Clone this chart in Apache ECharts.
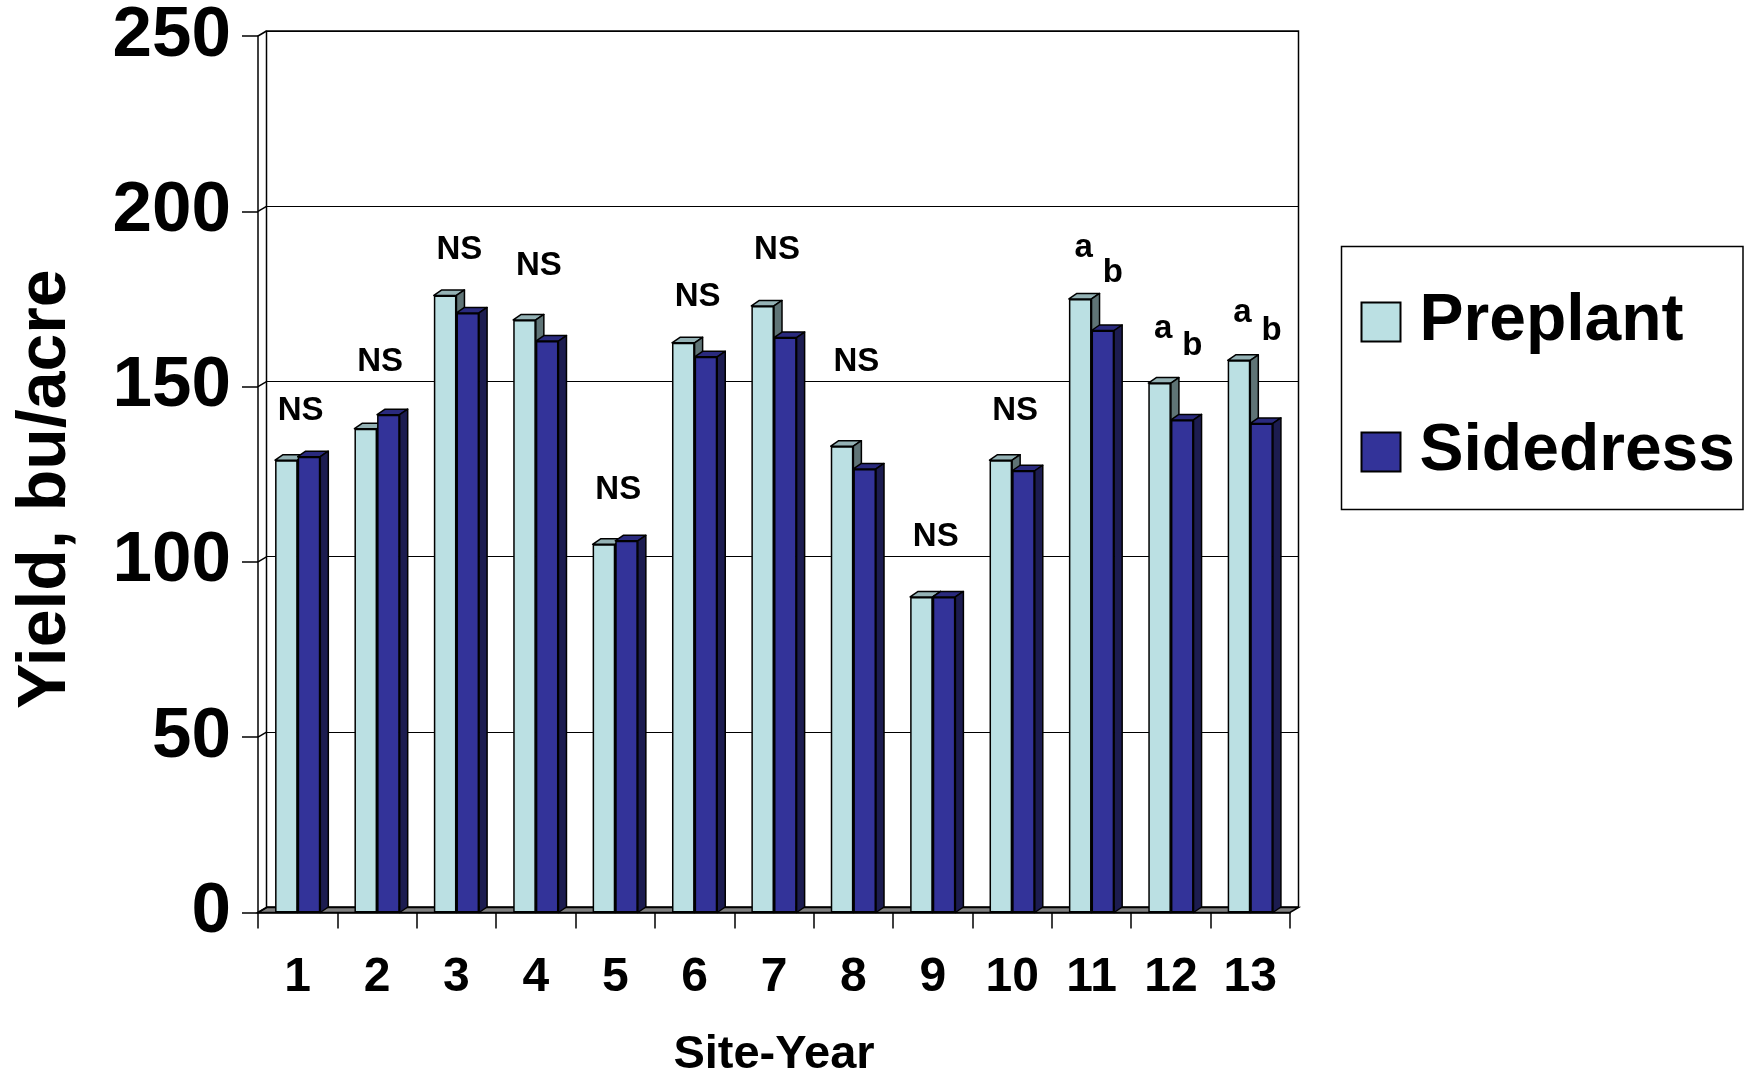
<!DOCTYPE html>
<html>
<head>
<meta charset="utf-8">
<script src="https://cdn.jsdelivr.net/npm/echarts@6/dist/echarts.min.js"></script>
<style>
  html, body { margin: 0; padding: 0; background: #ffffff; }
  #chart { width: 1750px; height: 1074px; }
</style>
</head>
<body>
<div id="chart"></div>
<script>
// ---- data ----
const siteYears = ['1', '2', '3', '4', '5', '6', '7', '8', '9', '10', '11', '12', '13'];
const preplant  = [129, 138, 176, 169, 105, 162.5, 173, 133, 90, 129, 175, 151, 157.5];
const sidedress = [130, 142, 171, 163, 106, 158.5, 164, 126.5, 90, 126, 166, 140.5, 139.5];
const yTicks = [0, 50, 100, 150, 200, 250];

// significance letters: site index, height (bu/acre), text, which bar (-1 preplant, 0 pair, 1 sidedress)
const noteSite   = [0, 1, 2, 3, 4, 5, 6, 7, 8, 9, 10, 10, 11, 11, 12, 12];
const noteHeight = [143, 157, 189, 184.5, 120.5, 175.5, 189, 157, 107, 143, 189.5, 182.5, 166.5, 161.5, 171, 166];
const noteText   = ['NS', 'NS', 'NS', 'NS', 'NS', 'NS', 'NS', 'NS', 'NS', 'NS', 'a', 'b', 'a', 'b', 'a', 'b'];
const noteSlot   = [0, 0, 0, 0, 0, 0, 0, 0, 0, 0, -1, 1, -1, 1, -1, 1];

// ---- styling ----
const FONT = '"Liberation Sans", Arial, Helvetica, sans-serif';
const CAT_GAP = 0.43;          // barCategoryGap as a fraction
const WALL_DX = 8.5, WALL_DY = 5;  // depth of the walls / floor
const BAR_DX = 8, BAR_DY = 5.5;    // depth of the columns
const COLORS = {
  preplant:  { front: '#BBE0E3', top: '#94B2B5', side: '#5F7476' },
  sidedress: { front: '#333399', top: '#2A2A7E', side: '#1C1C50' }
};

const chart = echarts.init(document.getElementById('chart'), null, { renderer: 'canvas' });

function barGeom(api, idx, value, slot) {
  const band = api.size([1, 0])[0];
  const w = band * (1 - CAT_GAP) / 2;
  const c = api.coord([idx, value]);
  const base = api.coord([idx, 0]);
  const left = slot === 0 ? c[0] - w : c[0];
  return { left: left, right: left + w, top: c[1], bottom: base[1], w: w };
}

function facesRenderer(colorSet, slot) {
  return function (params, api) {
    const g = barGeom(api, api.value(0), api.value(1), slot);
    const stroke = { stroke: '#000', lineWidth: 1.5, lineJoin: 'round' };
    return {
      type: 'group',
      children: [
        {
          type: 'polygon',
          shape: { points: [[g.left, g.top], [g.left + BAR_DX, g.top - BAR_DY], [g.right + BAR_DX, g.top - BAR_DY], [g.right, g.top]] },
          style: Object.assign({ fill: colorSet.top }, stroke)
        },
        {
          type: 'polygon',
          shape: { points: [[g.right, g.top], [g.right + BAR_DX, g.top - BAR_DY], [g.right + BAR_DX, g.bottom - BAR_DY], [g.right, g.bottom]] },
          style: Object.assign({ fill: colorSet.side }, stroke)
        }
      ]
    };
  };
}

const option = {
  animation: false,
  backgroundColor: '#ffffff',
  textStyle: { fontFamily: FONT },
  legend: {
    data: ['Preplant', 'Sidedress'],
    orient: 'vertical',
    left: 1341.5,
    top: 246.5,
    icon: 'rect',
    itemWidth: 39,
    itemHeight: 39,
    itemGap: 64,
    padding: [42.5, 8, 24.5, 19],
    borderColor: '#000',
    borderWidth: 1.5,
    selectedMode: false,
    textStyle: { fontFamily: FONT, fontSize: 66, fontWeight: 'bold', color: '#000', padding: [0, 0, 0, 14] }
  },
  grid: [
    // front plane: axes, ticks, columns
    { left: 258, top: 36, right: 460, bottom: 161.5, containLabel: false, outerBoundsMode: 'none' },
    // back wall with its gridlines
    { left: 266.5, top: 31, right: 451.5, bottom: 167, containLabel: false, outerBoundsMode: 'none',
      show: true, borderColor: '#000', borderWidth: 1.5, backgroundColor: 'transparent', z: 0 }
  ],
  xAxis: [
    {
      type: 'category', gridIndex: 0, data: siteYears,
      name: 'Site-Year', nameLocation: 'middle', nameGap: 119,
      nameTextStyle: { fontFamily: FONT, fontSize: 47, fontWeight: 'bold', color: '#000' },
      axisLine: { show: true, lineStyle: { color: '#000', width: 1.5 } },
      axisTick: { show: true, alignWithLabel: false, length: 16, lineStyle: { color: '#000', width: 1.5 } },
      axisLabel: { show: true, margin: 41, fontFamily: FONT, fontSize: 48, fontWeight: 'bold', color: '#000', interval: 0 },
      splitLine: { show: false }
    },
    {
      type: 'category', gridIndex: 1, data: siteYears,
      axisLine: { show: false }, axisTick: { show: false }, axisLabel: { show: false }, splitLine: { show: false }
    }
  ],
  yAxis: [
    {
      type: 'value', gridIndex: 0, min: 0, max: 250, interval: 50,
      name: 'Yield, bu/acre', nameLocation: 'middle', nameGap: 178, nameRotate: 90,
      nameTextStyle: { fontFamily: FONT, fontSize: 68, fontWeight: 'bold', color: '#000', padding: [0, 30, 0, 0] },
      axisLine: { show: true, lineStyle: { color: '#000', width: 1.5 } },
      axisTick: { show: true, length: 16, lineStyle: { color: '#000', width: 1.5 } },
      axisLabel: { show: true, margin: 27, fontFamily: FONT, fontSize: 71, fontWeight: 'bold', color: '#000' },
      splitLine: { show: false }
    },
    {
      type: 'value', gridIndex: 1, min: 0, max: 250, interval: 50,
      axisLine: { show: false }, axisTick: { show: false }, axisLabel: { show: false },
      splitLine: { show: true, lineStyle: { color: '#000', width: 1.2 } }
    }
  ],
  series: [
    // floor strip
    {
      type: 'custom', name: 'floor', xAxisIndex: 0, yAxisIndex: 0, z: 1, silent: true,
      data: [[0, 0]],
      renderItem: function (params, api) {
        const cs = params.coordSys;
        const yb = api.coord([0, 0])[1];
        const x0 = cs.x, x1 = cs.x + cs.width;
        return {
          type: 'polygon',
          shape: { points: [[x0, yb], [x0 + WALL_DX, yb - WALL_DY], [x1 + WALL_DX, yb - WALL_DY], [x1, yb]] },
          style: { fill: '#808080', stroke: '#000', lineWidth: 1.5 }
        };
      }
    },
    // left wall: links from each front tick to the back gridline
    {
      type: 'custom', name: 'wall', xAxisIndex: 0, yAxisIndex: 0, z: 1, silent: true,
      data: yTicks.map(function (v) { return [0, v]; }),
      renderItem: function (params, api) {
        const x0 = params.coordSys.x;
        const y = api.coord([0, api.value(1)])[1];
        return {
          type: 'line',
          shape: { x1: x0, y1: y, x2: x0 + WALL_DX, y2: y - WALL_DY },
          style: { stroke: '#000', lineWidth: 1.5 }
        };
      }
    },
    // column tops and sides
    {
      type: 'custom', name: 'preplant-depth', xAxisIndex: 0, yAxisIndex: 0, z: 2, silent: true,
      data: preplant.map(function (v, i) { return [i, v]; }),
      renderItem: facesRenderer(COLORS.preplant, 0)
    },
    {
      type: 'custom', name: 'sidedress-depth', xAxisIndex: 0, yAxisIndex: 0, z: 2, silent: true,
      data: sidedress.map(function (v, i) { return [i, v]; }),
      renderItem: facesRenderer(COLORS.sidedress, 1)
    },
    // column fronts
    {
      type: 'bar', name: 'Preplant', xAxisIndex: 0, yAxisIndex: 0, z: 3,
      data: preplant, barGap: '0%', barCategoryGap: (CAT_GAP * 100) + '%',
      itemStyle: { color: COLORS.preplant.front, borderColor: '#000', borderWidth: 1.5 }
    },
    {
      type: 'bar', name: 'Sidedress', xAxisIndex: 0, yAxisIndex: 0, z: 3,
      data: sidedress, barGap: '0%', barCategoryGap: (CAT_GAP * 100) + '%',
      itemStyle: { color: COLORS.sidedress.front, borderColor: '#000', borderWidth: 1.5 }
    },
    // significance letters
    {
      type: 'custom', name: 'notes', xAxisIndex: 0, yAxisIndex: 0, z: 4, silent: true,
      data: noteSite.map(function (s, i) { return [s, noteHeight[i]]; }),
      renderItem: function (params, api) {
        const i = params.dataIndex;
        const p = api.coord([api.value(0), api.value(1)]);
        const band = api.size([1, 0])[0];
        const w = band * (1 - CAT_GAP) / 2;
        const slot = noteSlot[i];
        let x = p[0] + 3;
        if (slot === -1) x = p[0] - w / 2 + 3.5;
        if (slot === 1) x = p[0] + w / 2 + 10;
        return {
          type: 'text',
          style: {
            x: x, y: p[1], text: noteText[i],
            fill: '#000', font: 'bold 33px ' + FONT,
            textAlign: 'center', textVerticalAlign: 'middle'
          }
        };
      }
    }
  ]
};

chart.setOption(option);
</script>
</body>
</html>
